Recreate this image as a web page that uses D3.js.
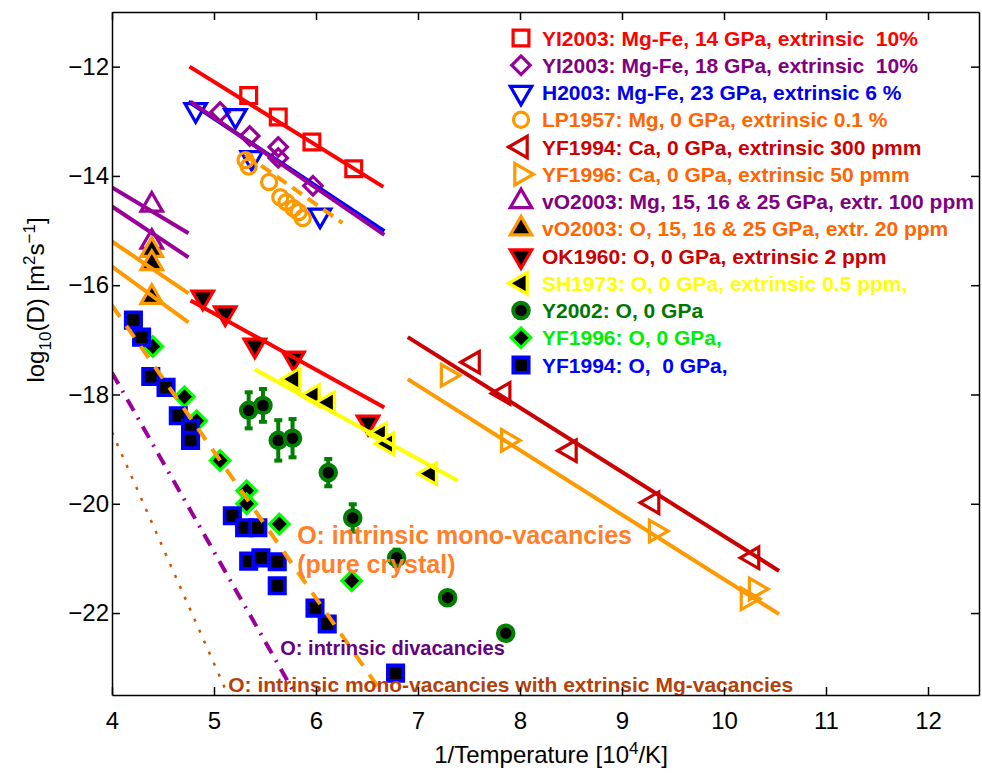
<!DOCTYPE html>
<html>
<head>
<meta charset="utf-8">
<title>Diffusion in wadsleyite / olivine</title>
<script src="https://cdn.jsdelivr.net/npm/d3@7"></script>
<style>
  body { margin: 0; background: #fff; font-family: "Liberation Sans", Arial, sans-serif; }
  .axis text { font-size: 24px; fill: #000; font-family: "Liberation Sans", Arial, sans-serif; }
  .axis path, .axis line { stroke: #000; stroke-width: 1.5px; }
  .legend text { font-size: 21px; font-weight: bold; white-space: pre; }
  .note { font-weight: bold; }
</style>
</head>
<body>
<svg width="982" height="773"></svg>
<script>
// ---- data (x = 1e4/T, y = log10 D) ----
const xTicks = [4, 5, 6, 7, 8, 9, 10, 11, 12];
const yTicks = [-22, -20, -18, -16, -14, -12];

const yi14 = [[5.34, -12.53], [5.63, -12.92], [5.96, -13.38], [6.37, -13.87]];
const yi14Fit = [[4.76, -12.00], [6.66, -14.20]];

const yi18 = [[5.06, -12.83], [5.35, -13.27], [5.63, -13.47], [5.63, -13.67], [5.97, -14.18]];
const yi18Fit = [[4.77, -12.64], [6.67, -15.08]];

const h2003 = [[4.82, -12.79], [5.21, -12.90], [5.37, -13.67], [6.04, -14.72]];
const h2003Fit = [[4.75, -12.64], [6.67, -15.01]];

const lp1957 = [[5.31, -13.71], [5.34, -13.83], [5.54, -14.11], [5.65, -14.39], [5.71, -14.48],
                [5.78, -14.59], [5.83, -14.66], [5.87, -14.77]];
const lp1957Fit = [[5.31, -13.61], [6.26, -14.86]];

const yf94ca = [[7.54, -17.41], [7.84, -17.98], [8.49, -19.03], [9.30, -19.98], [10.28, -20.99]];
const yf94caFit = [[6.90, -16.95], [10.54, -21.23]];

const yf96ca = [[7.29, -17.65], [7.88, -18.84], [9.33, -20.50], [10.31, -21.56], [10.23, -21.74]];
const yf96caFit = [[6.90, -17.72], [10.54, -22.02]];

const vo03mg = [[4.39, -14.53], [4.39, -15.21]];
const vo03mgFitA = [[4.0, -14.21], [4.75, -15.05]];
const vo03mgFitB = [[4.0, -14.56], [4.75, -15.49]];

const vo03o = [[4.39, -15.36], [4.39, -15.60], [4.39, -16.22]];
const vo03oFitA = [[4.0, -15.20], [4.75, -16.15]];
const vo03oFitB = [[4.0, -15.66], [4.75, -16.68]];

const ok1960 = [[4.89, -16.22], [5.11, -16.51], [5.40, -17.10], [5.78, -17.34], [6.51, -18.51]];
const ok1960Fit = [[4.77, -16.28], [6.67, -18.24]];

const sh1973 = [[5.78, -17.72], [5.97, -18.02], [6.12, -18.15], [6.63, -18.72], [6.70, -18.90], [7.12, -19.45]];
const sh1973Fit = [[5.40, -17.54], [7.39, -19.58]];

const y2002 = [[5.34, -18.29], [5.48, -18.20], [5.63, -18.84], [5.77, -18.80], [6.12, -19.43],
               [6.36, -20.26], [6.79, -20.99], [7.29, -21.72], [7.86, -22.37]];
const y2002Err = [0.33, 0.30, 0.37, 0.35, 0.25, 0.25, 0.15, 0.05, 0.05];

const yf96o = [[4.40, -17.12], [4.71, -18.04], [4.83, -18.48], [5.06, -19.21], [5.32, -19.76],
               [5.32, -20.00], [5.64, -20.37], [6.35, -21.41]];

const yf94o = [[4.21, -16.64], [4.29, -16.95], [4.38, -17.67], [4.53, -17.87], [4.65, -18.39],
               [4.77, -18.62], [4.77, -18.84], [5.18, -20.22], [5.30, -20.44], [5.43, -20.44],
               [5.34, -21.05], [5.46, -20.99], [5.62, -21.06], [5.62, -21.50], [5.99, -21.91],
               [6.11, -22.20], [6.78, -23.10]];

// model curves
const monoVac = [[4.0, -16.37], [6.70, -23.6]];
const diVac = [[4.0, -17.60], [5.83, -23.6]];
const monoVacMg = [[4.0, -18.69], [5.16, -23.6]];

// ---- layout ----
const svg = d3.select("svg");
const L = 112, R = 979, T = 12, B = 695;
const x = d3.scaleLinear().domain([4, 12.5]).range([L, R]);
const y = d3.scaleLinear().domain([-23.5, -11]).range([B, T]);

svg.append("defs").append("clipPath").attr("id", "clip")
  .append("rect").attr("x", L).attr("y", T).attr("width", R - L).attr("height", B - T);

const shapes = {
  square: [d3.symbolSquare, 0],
  diamond: [d3.symbolSquare, 45],
  circle: [d3.symbolCircle, 0],
  up: [d3.symbolTriangle, 0],
  down: [d3.symbolTriangle, 180],
  left: [d3.symbolTriangle, -90],
  right: [d3.symbolTriangle, 90]
};

const series = [
  { label: "YI2003: Mg-Fe, 14 GPa, extrinsic  10%", pts: yi14, fits: [yi14Fit], shape: "square", size: 250, stroke: "#ff0000", fill: "none", line: "#ff0000", text: "#ff0000" },
  { label: "YI2003: Mg-Fe, 18 GPa, extrinsic  10%", pts: yi18, fits: [yi18Fit], shape: "diamond", size: 170, stroke: "#990099", fill: "none", line: "#990099", text: "#800080" },
  { label: "H2003: Mg-Fe, 23 GPa, extrinsic 6 %", pts: h2003, fits: [h2003Fit], shape: "down", size: 200, stroke: "#0000ff", fill: "none", line: "#0000ff", text: "#0000ee" },
  { label: "LP1957: Mg, 0 GPa, extrinsic 0.1 %", pts: lp1957, fits: [lp1957Fit], shape: "circle", size: 180, stroke: "#ff9900", fill: "none", line: "#ff9900", text: "#ff6600", dash: "12,7" },
  { label: "YF1994: Ca, 0 GPa, extrinsic 300 pmm", pts: yf94ca, fits: [yf94caFit], shape: "left", size: 200, stroke: "#cc0000", fill: "none", line: "#cc0000", text: "#cc0000" },
  { label: "YF1996: Ca, 0 GPa, extrinsic 50 pmm", pts: yf96ca, fits: [yf96caFit], shape: "right", size: 200, stroke: "#ff9900", fill: "none", line: "#ff9900", text: "#ff6600" },
  { label: "vO2003: Mg, 15, 16 & 25 GPa, extr. 100 ppm", pts: vo03mg, fits: [vo03mgFitA, vo03mgFitB], shape: "up", size: 200, stroke: "#990099", fill: "none", line: "#990099", text: "#800080" },
  { label: "vO2003: O, 15, 16 & 25 GPa, extr. 20 ppm", pts: vo03o, fits: [vo03oFitA, vo03oFitB], shape: "up", size: 200, stroke: "#ff9900", fill: "#000", line: "#ff9900", text: "#ff6600" },
  { label: "OK1960: O, 0 GPa, extrinsic 2 ppm", pts: ok1960, fits: [ok1960Fit], shape: "down", size: 200, stroke: "#ff0000", fill: "#000", line: "#ff0000", text: "#cc0000" },
  { label: "SH1973: O, 0 GPa, extrinsic 0.5 ppm,", pts: sh1973, fits: [sh1973Fit], shape: "left", size: 200, stroke: "#ffff00", fill: "#000", line: "#ffff00", text: "#ffff00" },
  { label: "Y2002: O, 0 GPa", pts: y2002, fits: [], shape: "circle", size: 190, stroke: "#008000", fill: "#000", text: "#007700", err: y2002Err, sw: 4 },
  { label: "YF1996: O, 0 GPa,", pts: yf96o, fits: [], shape: "diamond", size: 190, stroke: "#00ff00", fill: "#000", text: "#00ee00" },
  { label: "YF1994: O,  0 GPa,", pts: yf94o, fits: [], shape: "square", size: 240, stroke: "#0000ff", fill: "#000", text: "#0000ff", sw: 3.6 }
];

function symbolPath(s) {
  return d3.symbol().type(shapes[s.shape][0]).size(s.size)();
}

const plot = svg.append("g").attr("clip-path", "url(#clip)");
const line = d3.line().x(d => x(d[0])).y(d => y(d[1]));

// error bars
series.filter(s => s.err).forEach(s => {
  const g = plot.append("g").attr("stroke", s.stroke).attr("stroke-width", 4);
  s.pts.forEach((p, i) => {
    const e = s.err[i];
    g.append("line").attr("x1", x(p[0])).attr("x2", x(p[0]))
      .attr("y1", y(p[1] + e)).attr("y2", y(p[1] - e));
    [p[1] + e, p[1] - e].forEach(v => g.append("line")
      .attr("x1", x(p[0]) - 4).attr("x2", x(p[0]) + 4).attr("y1", y(v)).attr("y2", y(v)));
  });
});

// markers
series.forEach(s => {
  plot.append("g").selectAll("path").data(s.pts).join("path")
    .attr("d", symbolPath(s))
    .attr("transform", d => `translate(${x(d[0])},${y(d[1])}) rotate(${shapes[s.shape][1]})`)
    .attr("fill", s.fill).attr("stroke", s.stroke).attr("stroke-width", s.sw || 3.2);
});

// fitted lines (drawn last so they sit over the markers)
series.slice().reverse().forEach(s => {
  s.fits.forEach(f => {
    plot.append("path").attr("d", line(f))
      .attr("fill", "none").attr("stroke", s.line).attr("stroke-width", 4)
      .attr("stroke-dasharray", s.dash || null);
  });
});

// model curves
plot.append("path").attr("d", line(monoVac)).attr("fill", "none")
  .attr("stroke", "#ff9900").attr("stroke-width", 4).attr("stroke-dasharray", "14,11");
plot.append("path").attr("d", line(diVac)).attr("fill", "none")
  .attr("stroke", "#990099").attr("stroke-width", 4).attr("stroke-dasharray", "13,8,2,8");
plot.append("path").attr("d", line(monoVacMg)).attr("fill", "none")
  .attr("stroke", "#cc5500").attr("stroke-width", 2.5).attr("stroke-dasharray", "3,9");

// annotations
const notes = [
  { t: "O: intrinsic mono-vacancies", at: [5.815, -20.73], size: 25, c: "#ff7f2a" },
  { t: "(pure crystal)", at: [5.815, -21.27], size: 25, c: "#ff7f2a" },
  { t: "O: intrinsic divacancies", at: [5.65, -22.76], size: 20, c: "#660080" },
  { t: "O: intrinsic mono-vacancies with extrinsic Mg-vacancies", at: [5.14, -23.45], size: 21, c: "#b5400a" }
];
svg.append("g").selectAll("text").data(notes).join("text")
  .attr("class", "note")
  .attr("x", d => x(d.at[0])).attr("y", d => y(d.at[1]))
  .attr("font-size", d => d.size).attr("fill", d => d.c)
  .text(d => d.t);

// axes (MATLAB box with inward ticks)
svg.append("g").attr("class", "axis").attr("transform", `translate(0,${B})`)
  .call(d3.axisBottom(x).tickValues(xTicks).tickSizeInner(-8).tickSizeOuter(0).tickPadding(17));
svg.append("g").attr("class", "axis").attr("transform", `translate(0,${T})`)
  .call(d3.axisTop(x).tickValues(xTicks).tickSizeInner(-8).tickSizeOuter(0).tickFormat(""));
svg.append("g").attr("class", "axis").attr("transform", `translate(${L},0)`)
  .call(d3.axisLeft(y).tickValues(yTicks).tickSizeInner(-8).tickSizeOuter(0).tickPadding(3));
svg.append("g").attr("class", "axis").attr("transform", `translate(${R},0)`)
  .call(d3.axisRight(y).tickValues(yTicks).tickSizeInner(-8).tickSizeOuter(0).tickFormat(""));

// axis titles
const xt = svg.append("text").attr("x", 551).attr("y", 763).attr("text-anchor", "middle")
  .attr("font-size", 24);
xt.append("tspan").text("1/Temperature [10");
xt.append("tspan").attr("dy", -9).attr("font-size", 17).text("4");
xt.append("tspan").attr("dy", 9).text("/K]");

const yt = svg.append("text").attr("transform", "translate(44,300) rotate(-90)")
  .attr("text-anchor", "middle").attr("font-size", 24);
yt.append("tspan").text("log");
yt.append("tspan").attr("dy", 7).attr("font-size", 17).text("10");
yt.append("tspan").attr("dy", -7).text("(D) [m");
yt.append("tspan").attr("dy", -9).attr("font-size", 17).text("2");
yt.append("tspan").attr("dy", 9).text("s");
yt.append("tspan").attr("dy", -9).attr("font-size", 17).text("\u22121");
yt.append("tspan").attr("dy", 9).text("]");

// legend
const leg = svg.append("g").attr("class", "legend");
series.forEach((s, i) => {
  const cy = 38 + i * 27.25;
  leg.append("path").attr("d", symbolPath(s))
    .attr("transform", `translate(521,${cy}) rotate(${shapes[s.shape][1]})`)
    .attr("fill", s.fill).attr("stroke", s.stroke).attr("stroke-width", s.sw || 3.2);
  leg.append("text").attr("x", 542).attr("y", cy).attr("dy", "0.36em")
    .attr("fill", s.text).text(s.label);
});
</script>
</body>
</html>
